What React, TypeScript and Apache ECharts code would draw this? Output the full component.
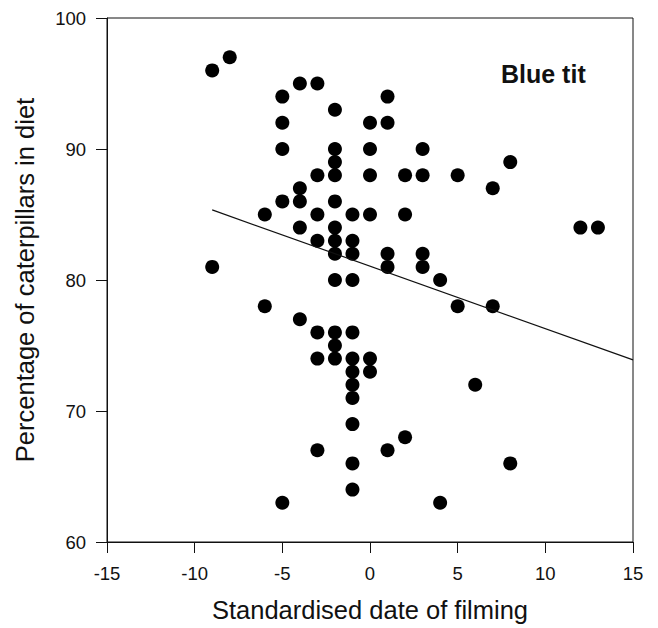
import React, { useEffect, useRef } from "react";
import * as echarts from "echarts";

const xValues = [
  -9, -8, -4, -3, -5, -2, -5, 0, -5, -2, 0, -2, -3, -2, 0, -4, -5, -4, -2, -6, -3, -1, 0, -4, -2, -3, -2, -1, -2, -1, -9, -2, -1,
  1, 1, 3, 2, 3, 5, 8, 7, 2, 12, 13, 1, 1, 3, 3, 4,
  -6, -4, -3, -2, -1, -2, -3, -2, -1, 0, -1, 0, -1, -1, -1, -3, -1, -1, -5,
  5, 7, 6, 2, 1, 8, 4,
];
const yValues = [
  96, 97, 95, 95, 94, 93, 92, 92, 90, 90, 90, 89, 88, 88, 88, 87, 86, 86, 86, 85, 85, 85, 85, 84, 84, 83, 83, 83, 82, 82, 81, 80, 80,
  94, 92, 90, 88, 88, 88, 89, 87, 85, 84, 84, 82, 81, 82, 81, 80,
  78, 77, 76, 76, 76, 75, 74, 74, 74, 74, 73, 73, 72, 71, 69, 67, 66, 64, 63,
  78, 78, 72, 68, 67, 66, 63,
];
const lineX = [-9, 15];
const lineY = [85.35, 73.9];
const xTicks = [-15, -10, -5, 0, 5, 10, 15];
const yTicks = [60, 70, 80, 90, 100];

export default function App() {
  const ref = useRef<HTMLDivElement>(null);
  useEffect(() => {
    if (!ref.current) return;
    const chart = echarts.init(ref.current, null, { renderer: "svg" });
    const font = "Liberation Sans, Arial, sans-serif";
    chart.setOption({
      animation: false,
      backgroundColor: "#fff",
      grid: {
        left: 107,
        right: 25,
        top: 18,
        bottom: 82,
        show: true,
        borderColor: "#111",
        borderWidth: 1,
      },
      xAxis: {
        type: "value",
        min: xTicks[0],
        max: xTicks[xTicks.length - 1],
        interval: 5,
        name: "Standardised date of filming",
        nameLocation: "middle",
        nameGap: 55,
        nameTextStyle: { fontFamily: font, fontSize: 25.5, color: "#111" },
        axisLine: { show: true, onZero: false, lineStyle: { color: "#111", width: 1 } },
        axisTick: { show: true, length: 11, inside: false, lineStyle: { color: "#111" } },
        axisLabel: { fontFamily: font, fontSize: 18.5, color: "#111", margin: 22 },
        splitLine: { show: false },
      },
      yAxis: {
        type: "value",
        min: yTicks[0],
        max: yTicks[yTicks.length - 1],
        interval: 10,
        name: "Percentage of caterpillars in diet",
        nameLocation: "middle",
        nameGap: 69,
        nameTextStyle: { fontFamily: font, fontSize: 25.5, color: "#111" },
        axisLine: { show: true, onZero: false, lineStyle: { color: "#111", width: 1 } },
        axisTick: { show: true, length: 11, inside: false, lineStyle: { color: "#111" } },
        axisLabel: { fontFamily: font, fontSize: 18.5, color: "#111", margin: 21 },
        splitLine: { show: false },
      },
      graphic: [
        {
          type: "text",
          left: 501,
          top: 61,
          style: { text: "Blue tit", fontFamily: font, fontSize: 25, fontWeight: "bold", fill: "#111" },
        },
      ],
      series: [
        {
          type: "scatter",
          data: xValues.map((x, i) => [x, yValues[i]]),
          symbol: "circle",
          symbolSize: 14,
          itemStyle: { color: "#000", opacity: 1 },
        },
        {
          type: "line",
          data: lineX.map((x, i) => [x, lineY[i]]),
          symbol: "none",
          lineStyle: { color: "#111", width: 1.2 },
        },
      ],
    });
    return () => chart.dispose();
  }, []);
  return (
    <div
      ref={ref}
      style={{ position: "absolute", left: 0, top: 0, width: 658, height: 628 }}
    />
  );
}
